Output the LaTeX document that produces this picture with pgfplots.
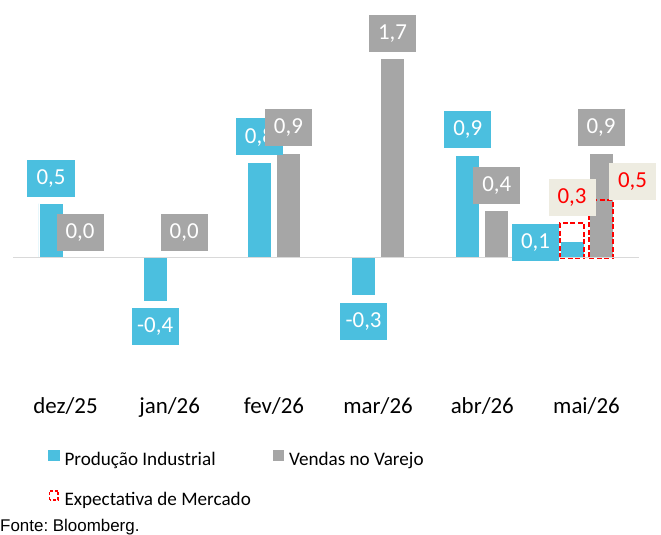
\documentclass[border=0pt]{standalone}
\usepackage{pgfplots}
\pgfplotsset{compat=1.18}
\usepackage{fontspec}
\setmainfont{Carlito}
\newfontfamily\arialfont{Liberation Sans}
\frenchspacing

\definecolor{prodcolor}{RGB}{75,191,223}
\definecolor{vendcolor}{RGB}{166,166,166}
\definecolor{expfill}{RGB}{238,236,225}

\tikzset{
  rotulo/.style={font=\fontsize{23}{27}\selectfont, draw=none, minimum width=47bp,
    minimum height=37bp, inner sep=0pt, outer sep=7bp}
}

\begin{document}
\begin{tikzpicture}
\path[use as bounding box] (0,0) rectangle (661bp,535bp);
\begin{axis}[
  at={(13.4bp,145.05bp)}, anchor=south west,
  scale only axis, width=625.2bp, height=385.25bp,
  xmin=-0.5, xmax=5.5, ymin=-1.15, ymax=2.2,
  ybar, bar width=24bp, clip=false,
  axis line style={draw=none},
  ytick=\empty,
  xtick={0,...,5},
  xticklabels={dez/25,jan/26,fev/26,mar/26,abr/26,mai/26},
  major tick length=0pt,
  xticklabel style={anchor=base, yshift=-24bp, font=\fontsize{23}{27}\selectfont},
  /pgf/number format/.cd, fixed, fixed zerofill, precision=1, use comma,
    assume math mode=true,
  /pgfplots/.cd,
  legend columns=2,
  legend cell align=left,
  legend style={at={(axis description cs:0,0)}, anchor=north west,
    xshift=34.6bp, yshift=-59.75bp, draw=none, fill=none, inner sep=0pt,
    font=\fontsize{19.2}{23}\selectfont,
    nodes={inner sep=0pt, text height=14bp, text depth=4bp},
    row sep=20.5bp,
    /tikz/every odd column/.append style={column sep=5bp},
    /tikz/every even column/.append style={column sep=22bp}},
]
% Produção Industrial
\addplot[ybar, bar shift=-14.5bp, fill=prodcolor, draw=white, line width=0.8bp,
  nodes near coords,
  every node near coord/.append style={rotulo, fill=prodcolor, text=white},
  legend image code/.code={\fill[prodcolor] (0bp,-0.5bp) rectangle (10.5bp,10bp);}]
  coordinates {(0,0.47) (1,-0.38) (2,0.83) (3,-0.33) (4,0.89)};
\addlegendentry{Produção Industrial}
\addplot[ybar, bar shift=-14.5bp, fill=prodcolor, draw=white, line width=0.8bp,
  forget plot, nodes near coords,
  every node near coord/.append style={rotulo, fill=prodcolor, text=white,
    xshift=-36.5bp, yshift=-26bp}]
  coordinates {(5,0.14)};
% Vendas no Varejo
\addplot[ybar, bar shift=14.5bp, fill=vendcolor, draw=white, line width=0.8bp,
  nodes near coords,
  every node near coord/.append style={rotulo, fill=vendcolor, text=white},
  legend image code/.code={\fill[vendcolor] (0bp,-0.5bp) rectangle (10.5bp,10bp);}]
  coordinates {(0,0.0) (1,0.0) (2,0.91) (3,1.73) (4,0.41) (5,0.91)};
\addlegendentry{Vendas no Varejo}
% Expectativa de Mercado
\addplot[ybar, bar shift=-14.5bp, fill=none, draw=red, line width=2bp,
  dash pattern=on 5bp off 2.5bp,
  nodes near coords,
  every node near coord/.append style={rotulo, fill=expfill, text=red, solid},
  legend image code/.code={\draw[red, line width=1.8bp, dash pattern=on 3bp off 1.8bp]
    (0.9bp,0.4bp) rectangle (9.6bp,9.4bp);}]
  coordinates {(5,0.30)};
\addlegendentry{Expectativa de Mercado}
\addplot[ybar, bar shift=14.5bp, fill=none, draw=red, line width=2bp,
  dash pattern=on 5bp off 2.5bp, forget plot,
  nodes near coords,
  every node near coord/.append style={rotulo, fill=expfill, text=red, solid,
    xshift=31.5bp, yshift=-6.5bp}]
  coordinates {(5,0.50)};
\draw[gray!60, line width=0.8bp] (axis cs:5,0.14) ++(-13.5bp,0) -- ++(-13bp,-1.5bp);
\draw[black!15, line width=1.5bp] (axis cs:-0.5,0) -- (axis cs:5.5,0);
\end{axis}
\node[anchor=base west, inner sep=0pt, font=\arialfont\fontsize{17}{20}\selectfont]
  at (0bp,3.3bp) {Fonte: Bloomberg.};
\end{tikzpicture}
\end{document}
